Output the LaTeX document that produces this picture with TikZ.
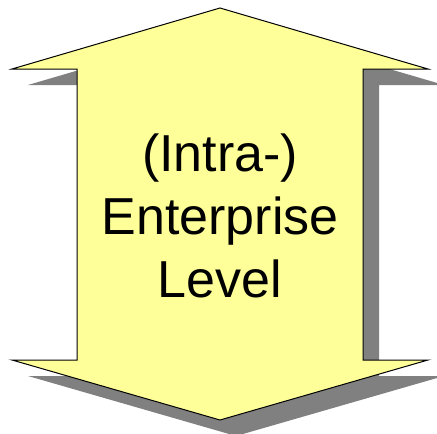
\documentclass[tikz,border=0pt]{standalone}
\usepackage{fontspec}
\setmainfont{Liberation Sans}
\usepackage{tikz}
\definecolor{arrowfill}{HTML}{FFFF99}
\definecolor{arrowshadow}{HTML}{808080}
\tikzstyle{arrowbody} = [draw=black, line width=1pt, fill=arrowfill, line join=miter]
\tikzstyle{label} = [text centered, align=center, font=\fontsize{52}{63}\selectfont]

\begin{document}
\begin{tikzpicture}[x=1pt,y=-1pt]
	\useasboundingbox (0,0) rectangle (437,434);
	% shadow
	\fill [arrowshadow,shift={(16,16)}] (220,8) -- (428,69) -- (363,69) -- (363,360) -- (428,360) -- (220,420) -- (12,360) -- (77,360) -- (77,69) -- (12,69) -- cycle;
	% arrow
	\draw [arrowbody] (220,8) -- (428,69) -- (363,69) -- (363,360) -- (428,360) -- (220,420) -- (12,360) -- (77,360) -- (77,69) -- (12,69) -- cycle;
	\node [label] (level) at (220,216) {(Intra-)\\Enterprise\\Level};
\end{tikzpicture}
\end{document}
